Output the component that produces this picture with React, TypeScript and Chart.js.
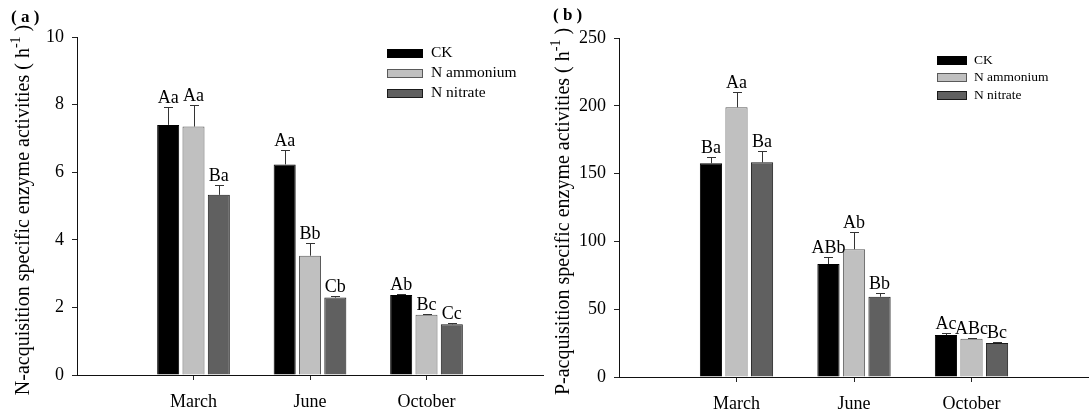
import React, { useEffect, useRef } from "react";
import { Chart, registerables } from "chart.js";

Chart.register(...registerables);

const months = ["March", "June", "October"];
const seriesNames = ["CK", "N ammonium", "N nitrate"];

// Panel (a): N-acquisition specific enzyme activities
const nCK = [7.4, 6.23, 2.37];
const nAmm = [7.35, 3.53, 1.78];
const nNit = [5.33, 2.29, 1.5];
const nCKErr = [0.54, 0.43, 0.03];
const nAmmErr = [0.65, 0.38, 0.02];
const nNitErr = [0.28, 0.05, 0.03];
const nCKLab = ["Aa", "Aa", "Ab"];
const nAmmLab = ["Aa", "Bb", "Bc"];
const nNitLab = ["Ba", "Cb", "Cc"];
const nTicks = [0, 2, 4, 6, 8, 10];

// Panel (b): P-acquisition specific enzyme activities
const pCK = [157.6, 83.3, 31];
const pAmm = [198.9, 94.2, 28.3];
const pNit = [158.3, 59.2, 25.1];
const pCKErr = [4.5, 5, 1.7];
const pAmmErr = [11, 12.5, 0.3];
const pNitErr = [8, 3, 0.5];
const pCKLab = ["Ba", "ABb", "Ac"];
const pAmmLab = ["Aa", "Ab", "ABc"];
const pNitLab = ["Ba", "Bb", "Bc"];
const pTicks = [0, 50, 100, 150, 200, 250];

const SERIF = "'Liberation Serif', 'Times New Roman', serif";
const fills = ["#000000", "#c0c0c0", "#606060"];
const borders = ["#000000", "#5a5a5a", "#1a1a1a"];

type PanelCfg = {
  values: number[][];
  errs: number[][];
  labels: string[][];
  ticks: number[];
  yTitle: string;
  tag: string;
  canvasLeft: number;
  canvasWidth: number;
  areaLeft: number;
  areaRight: number;
  areaTop: number;
  areaBottom: number;
  xPad: number;
  titleX: number;
  tagX: number;
  tagY: number;
  legendX: number;
  legendY: number;
  legendStep: number;
  legendBoxW: number;
  legendBoxH: number;
  legendFont: number;
  legendGap: number;
};

function makeChart(canvas: HTMLCanvasElement, cfg: PanelCfg) {
  const pad = (arr: (number | null)[]) => [null, ...arr, null];
  const catLabels = ["", ...months, ""];
  const H = 419;

  const overlay = {
    id: "overlay" + cfg.tag,
    afterDatasetsDraw(chart: any) {
      const ctx = chart.ctx as CanvasRenderingContext2D;
      const yScale = chart.scales.y;
      ctx.save();
      chart.data.datasets.forEach((ds: any, i: number) => {
        const meta = chart.getDatasetMeta(i);
        meta.data.forEach((el: any, j: number) => {
          const k = j - 1;
          if (k < 0 || k >= months.length) return;
          const v = cfg.values[i][k];
          const e = cfg.errs[i][k];
          const x = el.x;
          const yBar = yScale.getPixelForValue(v);
          const yTop = yScale.getPixelForValue(v + e);
          ctx.strokeStyle = "#333";
          ctx.lineWidth = 1;
          ctx.beginPath();
          ctx.moveTo(Math.round(x) + 0.5, yBar);
          ctx.lineTo(Math.round(x) + 0.5, Math.round(yTop) + 0.5);
          ctx.moveTo(Math.round(x) - 4, Math.round(yTop) + 0.5);
          ctx.lineTo(Math.round(x) + 5, Math.round(yTop) + 0.5);
          ctx.stroke();
          ctx.fillStyle = "#000";
          ctx.font = `18px ${SERIF}`;
          ctx.textAlign = "center";
          ctx.textBaseline = "alphabetic";
          ctx.fillText(cfg.labels[i][k], x, yTop - 4);
        });
      });
      ctx.restore();
    },
    afterDraw(chart: any) {
      const ctx = chart.ctx as CanvasRenderingContext2D;
      const area = chart.chartArea;
      ctx.save();
      // panel tag
      ctx.fillStyle = "#000";
      ctx.font = `bold 17px ${SERIF}`;
      ctx.textAlign = "left";
      ctx.textBaseline = "middle";
      ctx.fillText(`( ${cfg.tag} )`, cfg.tagX, cfg.tagY);

      // rotated y title with superscript
      const main = cfg.yTitle + " ( h";
      const sup = "-1";
      const tail = " )";
      ctx.font = `20px ${SERIF}`;
      const wMain = ctx.measureText(main).width;
      const wTail = ctx.measureText(tail).width;
      ctx.font = `14px ${SERIF}`;
      const wSup = ctx.measureText(sup).width;
      const total = wMain + wSup + wTail;
      const cy = (area.top + area.bottom) / 2 + 4;
      ctx.translate(cfg.titleX, cy);
      ctx.rotate(-Math.PI / 2);
      ctx.textBaseline = "middle";
      ctx.textAlign = "left";
      let x0 = -total / 2;
      ctx.font = `20px ${SERIF}`;
      ctx.fillText(main, x0, 0);
      x0 += wMain;
      ctx.font = `14px ${SERIF}`;
      ctx.fillText(sup, x0, -8);
      x0 += wSup;
      ctx.font = `20px ${SERIF}`;
      ctx.fillText(tail, x0, 0);
      ctx.setTransform(1, 0, 0, 1, 0, 0);

      // legend
      seriesNames.forEach((name, i) => {
        const yc = cfg.legendY + i * cfg.legendStep;
        const bx = cfg.legendX;
        const by = Math.round(yc - cfg.legendBoxH / 2);
        ctx.fillStyle = fills[i];
        ctx.fillRect(bx, by, cfg.legendBoxW, cfg.legendBoxH);
        ctx.strokeStyle = borders[i];
        ctx.lineWidth = 1;
        ctx.strokeRect(bx + 0.5, by + 0.5, cfg.legendBoxW - 1, cfg.legendBoxH - 1);
        ctx.fillStyle = "#000";
        ctx.font = `${cfg.legendFont}px ${SERIF}`;
        ctx.textAlign = "left";
        ctx.textBaseline = "middle";
        ctx.fillText(name, bx + cfg.legendBoxW + cfg.legendGap, yc);
      });
      ctx.restore();
    },
  };

  return new Chart(canvas, {
    type: "bar",
    data: {
      labels: catLabels,
      datasets: seriesNames.map((name, i) => ({
        label: name,
        data: pad(cfg.values[i]),
        backgroundColor: fills[i],
        borderColor: borders[i],
        borderWidth: 1,
        categoryPercentage: 0.652,
        barPercentage: 0.87,
      })),
    },
    options: {
      responsive: false,
      animation: false,
      devicePixelRatio: 1,
      layout: {
        padding: {
          left: 0,
          top: cfg.areaTop,
          right: cfg.canvasWidth - cfg.areaRight,
          bottom: 0,
        },
      },
      plugins: {
        legend: { display: false },
        tooltip: { enabled: false },
        title: { display: false },
      },
      scales: {
        x: {
          type: "category",
          offset: false,
          grid: {
            offset: false,
            drawOnChartArea: false,
            drawTicks: true,
            tickLength: 5,
            tickColor: (c: any) =>
              c.index === 0 || c.index === catLabels.length - 1 ? "rgba(0,0,0,0)" : "#222",
          },
          border: { display: true, color: "#111", width: 1 },
          ticks: {
            color: "#000",
            font: { family: SERIF, size: 18 },
            padding: cfg.xPad,
            autoSkip: false,
            maxRotation: 0,
            minRotation: 0,
          },
          afterFit: (s: any) => {
            s.height = H - cfg.areaBottom;
          },
        },
        y: {
          min: cfg.ticks[0],
          max: cfg.ticks[cfg.ticks.length - 1],
          afterBuildTicks: (s: any) => {
            s.ticks = cfg.ticks.map((v) => ({ value: v }));
          },
          grid: {
            drawOnChartArea: false,
            drawTicks: true,
            tickLength: 5,
            tickColor: "#222",
          },
          border: { display: true, color: "#111", width: 1 },
          ticks: {
            color: "#000",
            font: { family: SERIF, size: 18 },
            padding: 8,
          },
          afterFit: (s: any) => {
            s.width = cfg.areaLeft;
          },
        },
      },
    },
    plugins: [overlay],
  } as any);
}

function Panel({ cfg }: { cfg: PanelCfg }) {
  const ref = useRef<HTMLCanvasElement | null>(null);
  useEffect(() => {
    if (!ref.current) return;
    const chart = makeChart(ref.current, cfg);
    return () => chart.destroy();
  }, [cfg]);
  return (
    <canvas
      ref={ref}
      width={cfg.canvasWidth}
      height={419}
      style={{ position: "absolute", left: cfg.canvasLeft, top: 0, width: cfg.canvasWidth, height: 419 }}
    />
  );
}

const panelA: PanelCfg = {
  values: [nCK, nAmm, nNit],
  errs: [nCKErr, nAmmErr, nNitErr],
  labels: [nCKLab, nAmmLab, nNitLab],
  ticks: nTicks,
  yTitle: "N-acquisition specific enzyme activities",
  tag: "a",
  canvasLeft: 0,
  canvasWidth: 556,
  areaLeft: 77,
  areaRight: 543,
  areaTop: 37,
  areaBottom: 375,
  xPad: 11,
  titleX: 24,
  tagX: 11,
  tagY: 18,
  legendX: 387,
  legendY: 53,
  legendStep: 20,
  legendBoxW: 36,
  legendBoxH: 9,
  legendFont: 15.5,
  legendGap: 8,
};

const panelB: PanelCfg = {
  values: [pCK, pAmm, pNit],
  errs: [pCKErr, pAmmErr, pNitErr],
  labels: [pCKLab, pAmmLab, pNitLab],
  ticks: pTicks,
  yTitle: "P-acquisition specific enzyme activities",
  tag: "b",
  canvasLeft: 540,
  canvasWidth: 560,
  areaLeft: 79,
  areaRight: 552,
  areaTop: 38,
  areaBottom: 377,
  xPad: 11,
  titleX: 24,
  tagX: 13,
  tagY: 16,
  legendX: 397,
  legendY: 60,
  legendStep: 17.5,
  legendBoxW: 30,
  legendBoxH: 9,
  legendFont: 13.5,
  legendGap: 7,
};

export default function App() {
  return (
    <div
      style={{
        position: "absolute",
        left: 0,
        top: 0,
        width: 1089,
        height: 419,
        overflow: "hidden",
        background: "#fff",
      }}
    >
      <Panel cfg={panelA} />
      <Panel cfg={panelB} />
    </div>
  );
}
